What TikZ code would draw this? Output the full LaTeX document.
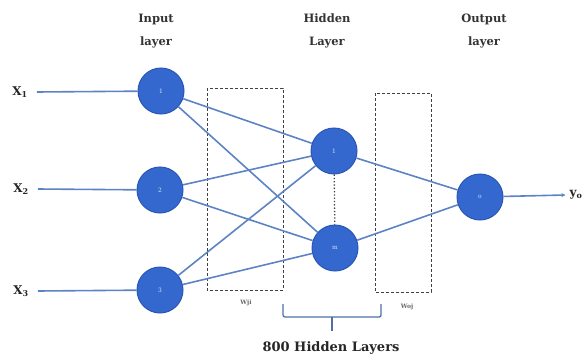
\documentclass[tikz,border=0pt]{standalone}
\usepackage{fontspec}
\setmainfont{DejaVu Serif}
\usetikzlibrary{arrows.meta}
\definecolor{nodeblue}{HTML}{3468CF}
\definecolor{nodeedge}{HTML}{2A56B4}
\definecolor{linkblue}{HTML}{5D83C4}
\begin{document}
\begin{tikzpicture}[x=1pt,y=-1pt,
  neuron/.style={circle,fill=nodeblue,draw=nodeedge,line width=1pt,minimum size=46pt,inner sep=0pt,text=white!80!nodeblue,font=\fontsize{6}{7}\selectfont},
  link/.style={draw=linkblue,line width=1.6pt},
  title/.style={font=\fontsize{11.5}{23}\selectfont\bfseries,align=center,text=black!80},
  xlab/.style={font=\fontsize{12}{13}\selectfont\bfseries,text=black!85,inner sep=1pt},
  wbox/.style={draw=black!75,dash pattern=on 3pt off 2pt,line width=1pt},
  small/.style={font=\fontsize{6}{7}\selectfont\bfseries,text=black!60}]
\useasboundingbox (0,0) rectangle (588,361);
% titles
\node[title] (ti) at (156,31) {Input\\layer};
\node[title] (th) at (327,31) {Hidden\\Layer};
\node[title] (to) at (484,31) {Output\\layer};
% weight boxes
\draw[wbox] (207,88) rectangle (283,290);
\draw[wbox] (375,93) rectangle (431,292);
% input labels
\node[xlab] (x1) at (20,92) {X\textsubscript{1}};
\node[xlab] (x2) at (21,189) {X\textsubscript{2}};
\node[xlab] (x3) at (21,291) {X\textsubscript{3}};
% neurons
\node[neuron] (i1) at (161,91) {1};
\node[neuron] (i2) at (160,190) {2};
\node[neuron] (i3) at (160,290) {3};
\node[neuron] (h1) at (334,151) {1};
\node[neuron] (hm) at (335,248) {m};
\node[neuron] (o) at (480,197) {o};
\node[xlab] (y) at (576,195) {y\textsubscript{o}};
% links
\foreach \x/\i in {x1/i1,x2/i2,x3/i3}{\draw[link] ([xshift=8pt]\x.east) -- (\i);}
\foreach \i in {i1,i2,i3}{\foreach \h in {h1,hm}{\draw[link] (\i) -- (\h);}}
\foreach \h in {h1,hm}{\draw[link] (\h) -- (o);}
\draw[link,-{Stealth[length=4pt,width=4pt]}] (o) -- ([xshift=-3pt]y.west);
\draw[black!75,dotted,line width=1.3pt] (h1) -- (hm);
% weight labels
\node[small] (wji) at (246,303) {Wji};
\node[small] (woj) at (407,307) {Woj};
% bracket
\coordinate (bl) at (283,304);
\coordinate (br) at (381,304);
\coordinate (bm) at (332,317);
\draw[linkblue!85!black,line width=1.3pt,rounded corners=2pt] (bl) |- (bm) -| (br);
\draw[linkblue!85!black,line width=1.3pt] (bm) -- ++(0,14);
\node[font=\fontsize{13}{14}\selectfont\bfseries,text=black!85] (lbl) at (331,348) {800 Hidden Layers};
\end{tikzpicture}
\end{document}
